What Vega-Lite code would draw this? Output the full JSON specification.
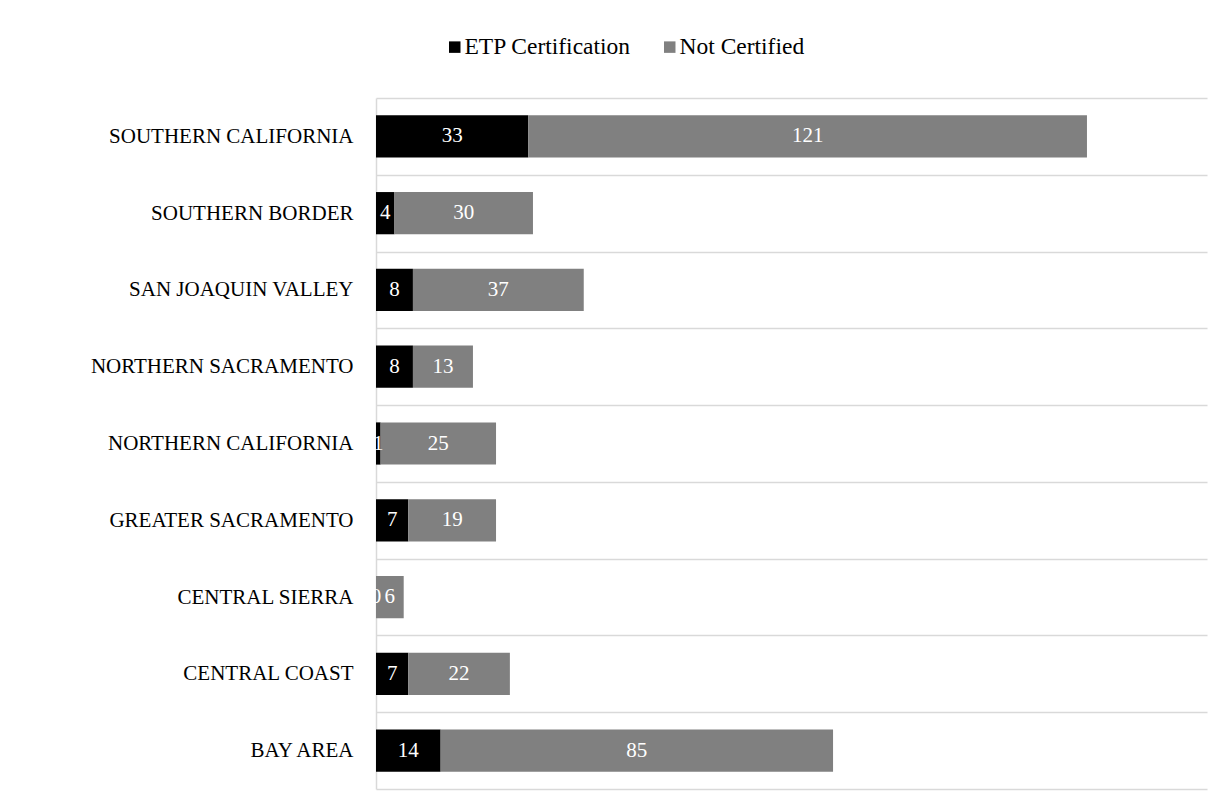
{
  "$schema": "https://vega.github.io/schema/vega-lite/v6.json",
  "width": 831,
  "height": 691,
  "autosize": {"type": "none"},
  "padding": {"left": 376, "top": 98, "right": 15, "bottom": 21},
  "background": "white",
  "config": {
    "font": "Liberation Serif",
    "view": {"stroke": null},
    "legend": {"labelFont": "Liberation Serif", "labelFontSize": 23.5, "labelLimit": 400, "labelColor": "#000000"}
  },
  "data": {
    "values": [
      {"region": "SOUTHERN CALIFORNIA", "status": "ETP Certification", "order": 1, "count": 33},
      {"region": "SOUTHERN CALIFORNIA", "status": "Not Certified", "order": 2, "count": 121},
      {"region": "SOUTHERN BORDER", "status": "ETP Certification", "order": 1, "count": 4},
      {"region": "SOUTHERN BORDER", "status": "Not Certified", "order": 2, "count": 30},
      {"region": "SAN JOAQUIN VALLEY", "status": "ETP Certification", "order": 1, "count": 8},
      {"region": "SAN JOAQUIN VALLEY", "status": "Not Certified", "order": 2, "count": 37},
      {"region": "NORTHERN SACRAMENTO", "status": "ETP Certification", "order": 1, "count": 8},
      {"region": "NORTHERN SACRAMENTO", "status": "Not Certified", "order": 2, "count": 13},
      {"region": "NORTHERN CALIFORNIA", "status": "ETP Certification", "order": 1, "count": 1},
      {"region": "NORTHERN CALIFORNIA", "status": "Not Certified", "order": 2, "count": 25},
      {"region": "GREATER SACRAMENTO", "status": "ETP Certification", "order": 1, "count": 7},
      {"region": "GREATER SACRAMENTO", "status": "Not Certified", "order": 2, "count": 19},
      {"region": "CENTRAL SIERRA", "status": "ETP Certification", "order": 1, "count": 0},
      {"region": "CENTRAL SIERRA", "status": "Not Certified", "order": 2, "count": 6},
      {"region": "CENTRAL COAST", "status": "ETP Certification", "order": 1, "count": 7},
      {"region": "CENTRAL COAST", "status": "Not Certified", "order": 2, "count": 22},
      {"region": "BAY AREA", "status": "ETP Certification", "order": 1, "count": 14},
      {"region": "BAY AREA", "status": "Not Certified", "order": 2, "count": 85}
    ]
  },
  "transform": [
    {"stack": "count", "groupby": ["region"], "sort": [{"field": "order", "order": "ascending"}], "as": ["x0", "x1"]},
    {"calculate": "(datum.x0 + datum.x1) / 2", "as": "mid"}
  ],
  "encoding": {
    "y": {
      "field": "region",
      "type": "nominal",
      "sort": ["SOUTHERN CALIFORNIA", "SOUTHERN BORDER", "SAN JOAQUIN VALLEY", "NORTHERN SACRAMENTO", "NORTHERN CALIFORNIA", "GREATER SACRAMENTO", "CENTRAL SIERRA", "CENTRAL COAST", "BAY AREA"],
      "scale": {"paddingInner": 0, "paddingOuter": 0},
      "axis": {
        "title": null,
        "domainColor": "#d9d9d9",
        "domainWidth": 1.5,
        "ticks": false,
        "grid": true,
        "gridColor": "#d9d9d9",
        "gridWidth": 1.5,
        "tickBand": "extent",
        "labelFont": "Liberation Serif",
        "labelFontSize": 21,
        "labelColor": "#000000",
        "labelPadding": 23,
        "labelLimit": 400
      }
    }
  },
  "layer": [
    {
      "mark": {"type": "bar", "height": {"band": 0.55}},
      "encoding": {
        "x": {"field": "x0", "type": "quantitative", "scale": {"domain": [0, 180]}, "axis": null},
        "x2": {"field": "x1"},
        "color": {
          "field": "status",
          "type": "nominal",
          "scale": {"domain": ["ETP Certification", "Not Certified"], "range": ["#000000", "#808080"]},
          "legend": {
            "title": null,
            "orient": "none",
            "legendX": 67,
            "legendY": -63,
            "direction": "horizontal",
            "symbolType": "square",
            "symbolSize": 132,
            "symbolStrokeWidth": 0,
            "labelFont": "Liberation Serif",
            "labelFontSize": 23.5,
            "labelLimit": 400,
            "labelColor": "#000000",
            "labelOffset": -2,
            "columnPadding": 27
          }
        }
      }
    },
    {
      "mark": {"type": "text", "color": "#ffffff", "fontSize": 21, "font": "Liberation Serif"},
      "encoding": {
        "x": {"field": "mid", "type": "quantitative"},
        "text": {"field": "count", "type": "quantitative"}
      }
    }
  ]
}
